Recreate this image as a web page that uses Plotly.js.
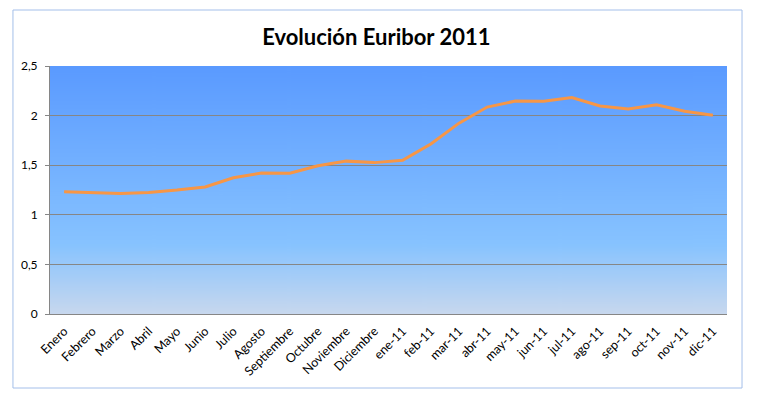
<!DOCTYPE html>
<html>
<head>
<meta charset="utf-8">
<script src="https://cdn.plot.ly/plotly-3.0.1.min.js"></script>
<style>html,body{margin:0;padding:0;background:#fff;}#chart{width:768px;height:402px;}</style>
</head>
<body>
<div id="chart"></div>
<script>
const categories = ["Enero","Febrero","Marzo","Abril","Mayo","Junio","Julio","Agosto","Septiembre","Octubre","Noviembre","Diciembre",
  "ene-11","feb-11","mar-11","abr-11","may-11","jun-11","jul-11","ago-11","sep-11","oct-11","nov-11","dic-11"];
const euribor = [1.232,1.225,1.215,1.225,1.249,1.281,1.373,1.421,1.420,1.495,1.541,1.526,
  1.550,1.714,1.924,2.086,2.147,2.144,2.183,2.097,2.067,2.110,2.044,2.004];
const yTicks = [0,0.5,1,1.5,2,2.5];

// gradient background image for plot area
const cv = document.createElement('canvas');
cv.width = 10; cv.height = 250;
const ctx = cv.getContext('2d');
const g = ctx.createLinearGradient(0,0,0,250);
g.addColorStop(0,'#5a9aff');
g.addColorStop(0.72,'#87c3ff');
g.addColorStop(1,'#c8d8ee');
ctx.fillStyle = g; ctx.fillRect(0,0,10,250);
const bg = cv.toDataURL();

const trace = {
  x: categories, y: euribor, type: 'scatter', mode: 'lines',
  line: {color: '#f79646', width: 3}, hoverinfo: 'x+y'
};

const layout = {
  width: 768, height: 402,
  margin: {l: 50, r: 41, t: 66, b: 88},
  paper_bgcolor: '#ffffff', plot_bgcolor: 'rgba(0,0,0,0)',
  separators: ',.',
  showlegend: false,
  font: {family: 'Lato, "Open Sans", sans-serif', color: '#000', size: 11},
  title: {text: 'Evolución Euribor 2011', font: {family: 'Lato, "Open Sans", sans-serif', size: 22, color: '#000', weight: 'bold'},
    xref: 'container', yref: 'container', x: 0.49, y: 0.908, xanchor: 'center', yanchor: 'middle'},
  xaxis: {type: 'category', range: [-0.5, categories.length - 0.5], showgrid: false, showline: true, linecolor: '#868686', linewidth: 1,
    ticks: '', tickangle: -45, ticklabelstandoff: 4, tickfont: {size: 12.5, color: '#000'}, zeroline: false, fixedrange: true},
  yaxis: {range: [0, 2.5], tickvals: yTicks, showgrid: true, gridcolor: '#868686', gridwidth: 1,
    showline: true, linecolor: '#868686', ticks: 'outside', ticklen: 4, tickcolor: '#868686', ticklabelstandoff: 5,
    tickfont: {size: 12, color: '#000'}, zeroline: false, fixedrange: true},
  images: [{source: bg, xref: 'x domain', yref: 'y domain', x: 0, y: 1, sizex: 1, sizey: 1,
    sizing: 'stretch', xanchor: 'left', yanchor: 'top', layer: 'below'}],
  shapes: [{type: 'rect', xref: 'paper', yref: 'paper', x0: -0.0547, x1: 1.0222, y0: -0.2984, y1: 1.2258,
    line: {color: '#a4bfea', width: 1}, fillcolor: 'rgba(0,0,0,0)', layer: 'below'}]
};

Plotly.newPlot('chart', [trace], layout, {displayModeBar: false, staticPlot: true});
</script>
</body>
</html>
